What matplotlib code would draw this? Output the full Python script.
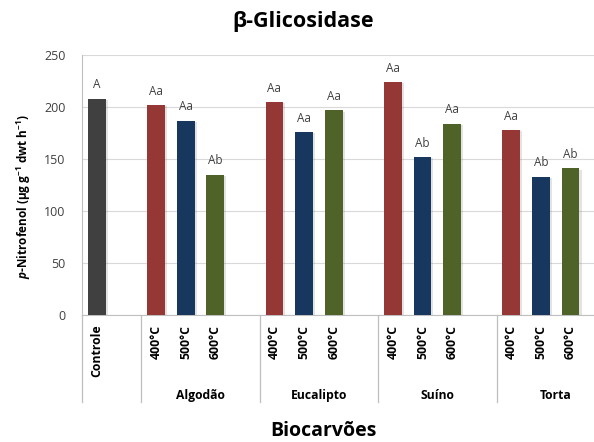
import matplotlib.pyplot as plt
import matplotlib.patheffects as pe
from matplotlib.transforms import blended_transform_factory

plt.rcParams["font.family"] = ["Open Sans", "DejaVu Sans"]
plt.rcParams["mathtext.fontset"] = "custom"
plt.rcParams["mathtext.rm"] = "Open Sans:bold"
plt.rcParams["mathtext.it"] = "Open Sans:italic:bold"

# enzyme activity per biochar and pyrolysis temperature
control_label = "Controle"
control_value = 208
control_letter = "A"

groups = ["Algodão", "Eucalipto", "Suíno", "Torta"]
temps = ["400°C", "500°C", "600°C"]
values = {
    "Algodão": [202, 187, 135],
    "Eucalipto": [205, 176, 197],
    "Suíno": [224, 152, 184],
    "Torta": [178, 133, 141],
}
letters = {
    "Algodão": ["Aa", "Aa", "Ab"],
    "Eucalipto": ["Aa", "Aa", "Aa"],
    "Suíno": ["Aa", "Ab", "Aa"],
    "Torta": ["Aa", "Ab", "Ab"],
}
yticks = [0, 50, 100, 150, 200, 250]

control_color = "#404040"
temp_colors = ["#953735", "#17375E", "#4F6228"]
text_color = "#404040"
line_color = "#BFBFBF"

fig = plt.figure(figsize=(5.94, 4.42), dpi=100)
# axes runs a little past the right edge of the figure
ax = fig.add_axes([82 / 594, 127 / 442, 533 / 594, 260 / 442])

shadow = [pe.SimplePatchShadow(offset=(1.5, -1), shadow_rgbFace="#808080", alpha=0.22), pe.Normal()]

xs, labels, heights, colors, notes = [0], [control_label], [control_value], [control_color], [control_letter]
for g, name in enumerate(groups):
    start = 2 + 4 * g
    for t, temp in enumerate(temps):
        xs.append(start + t)
        labels.append(temp)
        heights.append(values[name][t])
        colors.append(temp_colors[t])
        notes.append(letters[name][t])

bars = ax.bar(xs, heights, width=0.6, color=colors, zorder=3)
for b in bars:
    b.set_path_effects(shadow)

for x, h, note in zip(xs, heights, notes):
    ax.text(x, h + 7, note, ha="center", va="bottom", fontsize=8.5, color=text_color)

ax.set_xlim(-0.5, 17.5)
ax.set_ylim(0, 250)
ax.set_yticks(yticks)
ax.tick_params(axis="y", length=0, pad=12, labelsize=9, labelcolor=text_color)
ax.yaxis.grid(True, color="#D9D9D9", linewidth=0.8, zorder=0)
ax.set_axisbelow(True)

ax.set_xticks(xs)
ax.set_xticklabels(labels, rotation=90, fontsize=8.8, fontweight="bold", va="top")
ax.tick_params(axis="x", length=0, pad=7)

for side in ("top", "right"):
    ax.spines[side].set_visible(False)
ax.spines["left"].set_color(line_color)
ax.spines["bottom"].set_color(line_color)

# category separators below the axis
trans = blended_transform_factory(ax.transData, ax.transAxes)
for sep in [-0.5, 1.5, 5.5, 9.5, 13.5, 17.5]:
    ax.plot([sep, sep], [0, -0.335], color=line_color, linewidth=0.9,
            transform=trans, clip_on=False)
for g, name in enumerate(groups):
    ax.text(3.5 + 4 * g, -0.308, name, transform=trans, ha="center", va="center",
            fontsize=8.7, fontweight="bold")

ax.set_ylabel(r"$\it{p}$-Nitrofenol (µg g$^{-1}$ dwt h$^{-1}$)", fontsize=8.5,
              fontweight="bold")
ax.yaxis.set_label_coords(-0.092, 0.454)

fig.text(303 / 594, 1 - 21 / 442, "β-Glicosidase", ha="center", va="center",
         fontsize=15.5, fontweight="bold")
fig.text(323 / 594, 1 - 431 / 442, "Biocarvões", ha="center", va="center",
         fontsize=14, fontweight="bold")

fig.savefig("out.png", dpi=100)
